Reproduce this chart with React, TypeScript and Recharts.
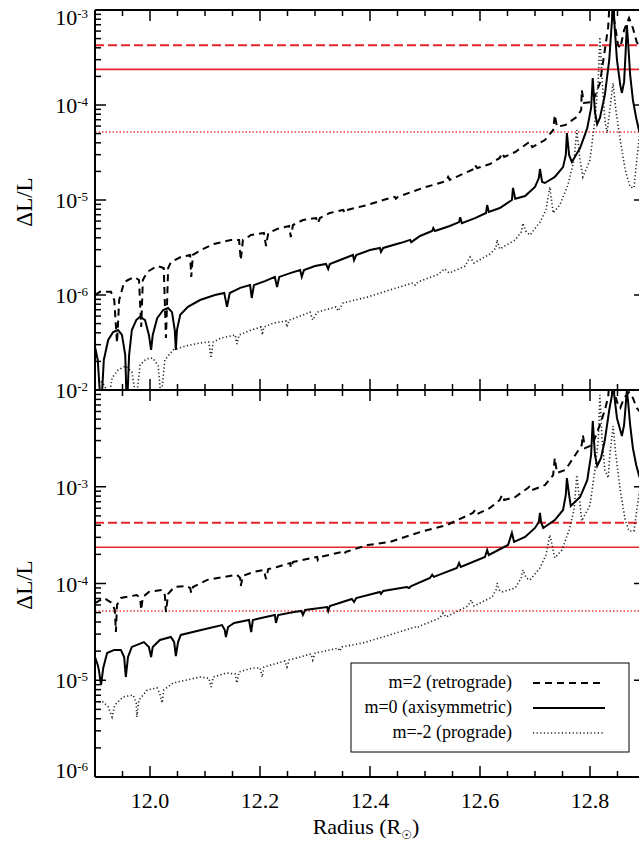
import { Line, LineChart, ReferenceLine, XAxis, YAxis } from "recharts";

type Pt = [number, number];

const SERIF = '"Liberation Serif", "Times New Roman", Times, serif';
const INK = "#000";
const RED = "#e8262a";

// Radius axis (solar radii)
const radiusDomain: [number, number] = [11.9, 12.9];
const radiusTicks = [
  11.9, 11.95, 12.0, 12.05, 12.1, 12.15, 12.2, 12.25, 12.3, 12.35, 12.4,
  12.45, 12.5, 12.55, 12.6, 12.65, 12.7, 12.75, 12.8, 12.85, 12.9,
];
const radiusLabels = [12.0, 12.2, 12.4, 12.6, 12.8];

// Decades shown on each panel (exponents of 10)
const topDecades = [-7, -6, -5, -4, -3];
const bottomDecades = [-6, -5, -4, -3, -2];
const topLabelled = [-6, -5, -4, -3];
const bottomLabelled = [-6, -5, -4, -3, -2];

// Detection limits (red lines)
const retroLimit = 4.25e-4;
const axiLimit = 2.37e-4;
const proLimit = 5.2e-5;

// ---- upper panel ----
const m2Top: Pt[] = [
  [11.9, 1.0e-6], [11.909, 1.08e-6], [11.929, 1.08e-6], [11.935, 8.85e-7], [11.94, 3.13e-7],
  [11.944, 8.85e-7], [11.953, 1.37e-6], [11.971, 1.55e-6], [11.98, 1.44e-6], [11.984, 4.6e-7],
  [11.987, 1.44e-6], [11.995, 1.75e-6], [12.013, 2.02e-6], [12.025, 1.92e-6], [12.029, 3.52e-7],
  [12.033, 1.92e-6], [12.038, 2.22e-6], [12.056, 2.51e-6], [12.073, 2.64e-6], [12.075, 1.55e-6],
  [12.078, 2.64e-6], [12.093, 2.98e-6], [12.116, 3.44e-6], [12.147, 3.8e-6], [12.162, 3.8e-6],
  [12.165, 2.33e-6], [12.169, 3.8e-6], [12.184, 4.28e-6], [12.207, 4.5e-6], [12.211, 3.28e-6],
  [12.215, 4.5e-6], [12.231, 4.95e-6], [12.253, 5.32e-6], [12.256, 4.08e-6], [12.26, 5.45e-6],
  [12.278, 6.15e-6], [12.302, 6.45e-6], [12.305, 5.7e-6], [12.309, 6.45e-6], [12.327, 7.3e-6],
  [12.351, 7.85e-6], [12.355, 7.3e-6], [12.358, 7.85e-6], [12.395, 8.85e-6], [12.424, 1.0e-5],
  [12.445, 1.08e-5], [12.447, 1.03e-5], [12.451, 1.08e-5], [12.496, 1.34e-5], [12.538, 1.58e-5],
  [12.542, 1.75e-5], [12.545, 1.63e-5], [12.589, 2.12e-5], [12.591, 2.33e-5], [12.595, 2.17e-5],
  [12.618, 2.39e-5], [12.636, 2.77e-5], [12.64, 3.13e-5], [12.644, 2.84e-5], [12.664, 3.2e-5],
  [12.687, 3.98e-5], [12.691, 4.1e-5], [12.695, 3.6e-5], [12.718, 4.28e-5], [12.733, 5.45e-5],
  [12.736, 7.85e-5], [12.74, 5.9e-5], [12.755, 6.15e-5], [12.776, 7.5e-5], [12.784, 8.85e-5],
  [12.785, 1.44e-4], [12.789, 1.05e-4], [12.805, 1.08e-4], [12.818, 1.7e-4], [12.827, 3.8e-4],
  [12.833, 6.6e-4], [12.838, 2e-3], [12.844, 7.85e-4], [12.851, 4.28e-4], [12.855, 3.98e-4],
  [12.862, 6.15e-4], [12.871, 8.24e-4], [12.878, 6.45e-4], [12.885, 4.6e-4], [12.9, 3.36e-4],
];

const m0Top: Pt[] = [
  [11.9, 2.84e-7], [11.905, 2.07e-7], [11.911, 6e-8], [11.916, 2.07e-7], [11.924, 3.36e-7],
  [11.933, 4.08e-7], [11.942, 4.28e-7], [11.949, 3.8e-7], [11.955, 2.33e-7], [11.958, 6e-8],
  [11.962, 2.33e-7], [11.967, 4.28e-7], [11.975, 5.45e-7], [11.982, 5.9e-7], [11.991, 5.45e-7],
  [11.998, 3.8e-7], [12.002, 2.64e-7], [12.005, 3.8e-7], [12.013, 5.7e-7], [12.024, 6.95e-7],
  [12.033, 7.3e-7], [12.04, 6.6e-7], [12.045, 4.28e-7], [12.047, 2.64e-7], [12.049, 4.28e-7],
  [12.055, 6.2e-7], [12.069, 7.5e-7], [12.091, 8.85e-7], [12.118, 1.0e-6], [12.135, 1.05e-6],
  [12.14, 7.5e-7], [12.145, 1.05e-6], [12.164, 1.19e-6], [12.182, 1.27e-6], [12.185, 9.3e-7],
  [12.189, 1.27e-6], [12.209, 1.4e-6], [12.227, 1.55e-6], [12.231, 1.21e-6], [12.235, 1.55e-6],
  [12.255, 1.7e-6], [12.273, 1.83e-6], [12.276, 1.55e-6], [12.28, 1.83e-6], [12.3, 2.02e-6],
  [12.32, 2.12e-6], [12.324, 1.88e-6], [12.327, 2.12e-6], [12.355, 2.45e-6], [12.369, 2.64e-6],
  [12.371, 2.33e-6], [12.375, 2.64e-6], [12.4, 2.98e-6], [12.418, 3.13e-6], [12.42, 2.84e-6],
  [12.424, 3.13e-6], [12.455, 3.52e-6], [12.473, 3.8e-6], [12.475, 3.6e-6], [12.491, 4.18e-6],
  [12.513, 4.72e-6], [12.515, 5.07e-6], [12.518, 4.72e-6], [12.545, 5.32e-6], [12.562, 5.86e-6],
  [12.564, 6.6e-6], [12.567, 5.7e-6], [12.591, 6.45e-6], [12.611, 7.3e-6], [12.613, 8.85e-6],
  [12.616, 7.48e-6], [12.636, 8.24e-6], [12.658, 1.0e-5], [12.66, 1.34e-5], [12.664, 1.03e-5],
  [12.682, 1.1e-5], [12.7, 1.37e-5], [12.707, 1.7e-5], [12.709, 2.12e-5], [12.713, 1.55e-5],
  [12.718, 1.51e-5], [12.736, 1.75e-5], [12.751, 2.22e-5], [12.756, 2.98e-5], [12.758, 5.07e-5],
  [12.762, 2.98e-5], [12.767, 2.51e-5], [12.782, 3.52e-5], [12.795, 5.7e-5], [12.802, 9.3e-5],
  [12.805, 1.92e-4], [12.809, 8.43e-5], [12.813, 6.3e-5], [12.818, 7.3e-5], [12.827, 1.27e-4],
  [12.835, 2.98e-4], [12.84, 7.85e-4], [12.842, 2e-3], [12.844, 7.85e-4], [12.849, 2.98e-4],
  [12.855, 1.63e-4], [12.858, 1.34e-4], [12.862, 1.75e-4], [12.865, 3.8e-4], [12.867, 6.95e-4],
  [12.869, 4.83e-4], [12.873, 2.07e-4], [12.878, 1.13e-4], [12.884, 7.3e-5], [12.889, 5.45e-5],
  [12.9, 3.52e-5],
];

const mm2Top: Pt[] = [
  [11.9, 1.19e-7], [11.909, 1.27e-7], [11.918, 1.1e-7], [11.925, 8e-8], [11.931, 1.34e-7],
  [11.942, 1.63e-7], [11.956, 1.79e-7], [11.967, 1.55e-7], [11.975, 8e-8], [11.982, 1.83e-7],
  [11.993, 2.12e-7], [12.005, 2.17e-7], [12.015, 1.79e-7], [12.02, 8e-8], [12.027, 2.07e-7],
  [12.042, 2.64e-7], [12.064, 2.9e-7], [12.091, 3.13e-7], [12.107, 3.2e-7], [12.111, 2.17e-7],
  [12.115, 3.2e-7], [12.129, 3.52e-7], [12.155, 3.8e-7], [12.158, 3.05e-7], [12.162, 3.8e-7],
  [12.184, 4.28e-7], [12.202, 4.6e-7], [12.204, 3.8e-7], [12.207, 4.6e-7], [12.225, 5.07e-7],
  [12.247, 5.32e-7], [12.249, 4.6e-7], [12.253, 5.45e-7], [12.278, 6.15e-7], [12.291, 6.6e-7],
  [12.296, 5.45e-7], [12.304, 6.6e-7], [12.338, 7.5e-7], [12.342, 6.8e-7], [12.351, 8.24e-7],
  [12.395, 9.5e-7], [12.436, 1.13e-6], [12.478, 1.34e-6], [12.482, 1.27e-6], [12.487, 1.37e-6],
  [12.522, 1.63e-6], [12.536, 1.88e-6], [12.544, 1.7e-6], [12.573, 2.02e-6], [12.582, 2.51e-6],
  [12.589, 2.17e-6], [12.618, 2.7e-6], [12.629, 3.13e-6], [12.631, 3.8e-6], [12.636, 3.05e-6],
  [12.664, 3.8e-6], [12.675, 4.6e-6], [12.678, 5.7e-6], [12.684, 4.6e-6], [12.691, 4.28e-6],
  [12.709, 5.86e-6], [12.72, 7.85e-6], [12.727, 1.37e-5], [12.733, 7.3e-6], [12.745, 8.85e-6],
  [12.76, 1.44e-5], [12.771, 2.64e-5], [12.776, 5.45e-5], [12.782, 2.64e-5], [12.787, 1.75e-5],
  [12.8, 2.64e-5], [12.809, 6.95e-5], [12.815, 1.83e-4], [12.818, 5.2e-4], [12.822, 1.83e-4],
  [12.827, 6.95e-5], [12.831, 5.07e-5], [12.836, 8.85e-5], [12.842, 1.7e-4], [12.847, 8.85e-5],
  [12.855, 4.28e-5], [12.864, 2.07e-5], [12.873, 1.37e-5], [12.88, 1.34e-5], [12.885, 2.64e-5],
  [12.889, 4.28e-5], [12.9, 1.13e-4],
];

// ---- lower panel ----
const m2Bot: Pt[] = [
  [11.9, 6.28e-5], [11.916, 7.08e-5], [11.931, 6.28e-5], [11.936, 5.32e-5], [11.938, 3.15e-5],
  [11.94, 6.0e-5], [11.947, 7.08e-5], [11.976, 7.6e-5], [11.982, 7.08e-5], [11.984, 5.32e-5],
  [11.987, 7.25e-5], [11.998, 8.17e-5], [12.022, 8.57e-5], [12.027, 7.6e-5], [12.029, 5.07e-5],
  [12.033, 7.8e-5], [12.044, 9.2e-5], [12.067, 9.42e-5], [12.073, 8.98e-5], [12.075, 7.98e-5],
  [12.078, 9.2e-5], [12.104, 1.09e-4], [12.158, 1.23e-4], [12.164, 1.14e-4], [12.165, 9.42e-5],
  [12.169, 1.2e-4], [12.189, 1.32e-4], [12.207, 1.38e-4], [12.211, 1.11e-4], [12.215, 1.41e-4],
  [12.231, 1.48e-4], [12.255, 1.63e-4], [12.256, 1.45e-4], [12.26, 1.67e-4], [12.304, 1.88e-4],
  [12.305, 1.75e-4], [12.309, 1.88e-4], [12.349, 2.12e-4], [12.353, 2.02e-4], [12.356, 2.12e-4],
  [12.396, 2.5e-4], [12.436, 2.69e-4], [12.491, 3.4e-4], [12.54, 4.03e-4], [12.587, 5.36e-4],
  [12.591, 5.75e-4], [12.595, 5.22e-4], [12.618, 6.03e-4], [12.636, 7.3e-4], [12.64, 8.22e-4],
  [12.644, 7.3e-4], [12.664, 7.83e-4], [12.687, 9.7e-4], [12.691, 1.02e-3], [12.695, 9.25e-4],
  [12.718, 1.04e-3], [12.733, 1.32e-3], [12.736, 1.98e-3], [12.74, 1.39e-3], [12.755, 1.49e-3],
  [12.778, 2.34e-3], [12.785, 2.7e-3], [12.787, 3.43e-3], [12.791, 2.51e-3], [12.804, 2.7e-3],
  [12.818, 4.35e-3], [12.827, 6.21e-3], [12.833, 8.47e-3], [12.838, 2e-2], [12.844, 9.5e-3],
  [12.851, 7.0e-3], [12.855, 6.52e-3], [12.862, 8.27e-3], [12.871, 9.5e-3], [12.878, 8.27e-3],
  [12.885, 6.52e-3], [12.9, 5.14e-3],
];

const m0Bot: Pt[] = [
  [11.9, 1.74e-5], [11.905, 1.44e-5], [11.907, 1.28e-5], [11.911, 8.94e-6], [11.915, 1.34e-5],
  [11.922, 1.91e-5], [11.935, 2.06e-5], [11.947, 2.06e-5], [11.953, 1.74e-5], [11.956, 1.08e-5],
  [11.96, 1.74e-5], [11.967, 2.21e-5], [11.989, 2.48e-5], [11.998, 2.21e-5], [12.002, 1.74e-5],
  [12.005, 2.21e-5], [12.018, 2.61e-5], [12.038, 2.8e-5], [12.044, 2.48e-5], [12.047, 1.78e-5],
  [12.051, 2.48e-5], [12.056, 2.94e-5], [12.093, 3.3e-5], [12.131, 3.72e-5], [12.136, 3.3e-5],
  [12.138, 2.8e-5], [12.142, 3.55e-5], [12.153, 3.91e-5], [12.18, 4.2e-5], [12.184, 3.15e-5],
  [12.187, 4.2e-5], [12.202, 4.4e-5], [12.227, 4.72e-5], [12.229, 3.91e-5], [12.233, 4.72e-5],
  [12.262, 5.07e-5], [12.275, 5.2e-5], [12.278, 4.72e-5], [12.282, 5.32e-5], [12.322, 5.71e-5],
  [12.324, 5.2e-5], [12.327, 5.85e-5], [12.367, 6.92e-5], [12.371, 6.44e-5], [12.375, 7.08e-5],
  [12.418, 8.17e-5], [12.42, 7.8e-5], [12.424, 8.37e-5], [12.467, 9.2e-5], [12.471, 8.98e-5],
  [12.475, 9.42e-5], [12.509, 1.14e-4], [12.513, 1.23e-4], [12.516, 1.17e-4], [12.558, 1.45e-4],
  [12.562, 1.63e-4], [12.565, 1.48e-4], [12.609, 1.88e-4], [12.613, 2.22e-4], [12.616, 1.97e-4],
  [12.651, 2.5e-4], [12.658, 3.33e-4], [12.662, 2.69e-4], [12.682, 3.03e-4], [12.7, 3.75e-4],
  [12.707, 4.33e-4], [12.709, 5.36e-4], [12.711, 4.33e-4], [12.715, 3.75e-4], [12.736, 4.53e-4],
  [12.751, 5.75e-4], [12.756, 8.22e-4], [12.758, 1.23e-3], [12.762, 8.22e-4], [12.765, 6.32e-4],
  [12.782, 7.83e-4], [12.795, 1.17e-3], [12.802, 2.13e-3], [12.805, 4.79e-3], [12.809, 2.13e-3],
  [12.813, 1.64e-3], [12.82, 1.98e-3], [12.827, 3.04e-3], [12.835, 6.21e-3], [12.84, 8.9e-3],
  [12.842, 2e-2], [12.844, 8.9e-3], [12.849, 5.14e-3], [12.855, 3.86e-3], [12.858, 3.35e-3],
  [12.862, 4.35e-3], [12.867, 9.76e-3], [12.869, 7.88e-3], [12.873, 4.35e-3], [12.878, 2.51e-3],
  [12.884, 1.68e-3], [12.889, 1.32e-3], [12.9, 8.83e-4],
];

const mm2Bot: Pt[] = [
  [11.9, 5.96e-6], [11.915, 5.96e-6], [11.924, 5.3e-6], [11.931, 4.17e-6], [11.936, 5.55e-6],
  [11.951, 6.71e-6], [11.969, 7.05e-6], [11.975, 5.82e-6], [11.976, 4.17e-6], [11.98, 6.25e-6],
  [11.995, 7.93e-6], [12.013, 8.32e-6], [12.018, 7.21e-6], [12.022, 5.82e-6], [12.025, 7.93e-6],
  [12.042, 9.37e-6], [12.091, 1.08e-5], [12.107, 1.05e-5], [12.111, 8.52e-6], [12.115, 1.08e-5],
  [12.14, 1.19e-5], [12.155, 1.16e-5], [12.158, 9.37e-6], [12.162, 1.22e-5], [12.187, 1.34e-5],
  [12.2, 1.34e-5], [12.204, 1.08e-5], [12.207, 1.37e-5], [12.245, 1.58e-5], [12.249, 1.37e-5],
  [12.253, 1.62e-5], [12.293, 1.87e-5], [12.296, 1.62e-5], [12.3, 1.91e-5], [12.342, 2.15e-5],
  [12.345, 2.0e-5], [12.349, 2.21e-5], [12.387, 2.43e-5], [12.436, 2.94e-5], [12.482, 3.55e-5],
  [12.485, 3.47e-5], [12.491, 3.64e-5], [12.527, 4.4e-5], [12.533, 4.95e-5], [12.538, 4.5e-5],
  [12.578, 5.85e-5], [12.584, 6.75e-5], [12.589, 5.85e-5], [12.622, 7.25e-5], [12.629, 8.57e-5],
  [12.631, 1.01e-4], [12.635, 8.57e-5], [12.64, 8.17e-5], [12.664, 8.98e-5], [12.675, 1.14e-4],
  [12.678, 1.38e-4], [12.684, 1.14e-4], [12.691, 1.09e-4], [12.709, 1.45e-4], [12.72, 1.97e-4],
  [12.727, 3.17e-4], [12.731, 2.5e-4], [12.736, 1.84e-4], [12.749, 2.22e-4], [12.762, 3.57e-4],
  [12.771, 5.75e-4], [12.776, 1.32e-3], [12.782, 6.47e-4], [12.785, 4.43e-4], [12.8, 6.47e-4],
  [12.809, 1.49e-3], [12.815, 3.04e-3], [12.818, 8.9e-3], [12.822, 3.04e-3], [12.827, 1.49e-3],
  [12.833, 1.23e-3], [12.836, 2.13e-3], [12.842, 4.25e-3], [12.847, 2.13e-3], [12.855, 9.25e-4],
  [12.864, 4.53e-4], [12.871, 3.49e-4], [12.88, 3.49e-4], [12.885, 5.75e-4], [12.889, 8.22e-4],
  [12.9, 2.13e-3],
];

const styles = {
  retro: { stroke: INK, strokeWidth: 2, strokeDasharray: "7 5" },
  axi: { stroke: INK, strokeWidth: 2 },
  pro: { stroke: "#222", strokeWidth: 1.6, strokeDasharray: "1.2 2.4" },
};

const legendRows = [
  { label: "m=2 (retrograde)", style: styles.retro },
  { label: "m=0 (axisymmetric)", style: styles.axi },
  { label: "m=-2 (prograde)", style: styles.pro },
];

const rows = (pts: Pt[]) => pts.map(([x, y]) => ({ x, y }));

function logTicks(decades: number[]) {
  const out: number[] = [];
  decades.forEach((d, i) => {
    const steps = i === decades.length - 1 ? [1] : [1, 2, 3, 4, 5, 6, 7, 8, 9];
    steps.forEach((s) => out.push(s * Math.pow(10, d)));
  });
  return out;
}

function yTick(side: "left" | "right", labelled: number[], shift: Record<number, number>) {
  return (props: any) => {
    const { x, y, payload } = props;
    const e = Math.log10(payload.value);
    const exp = Math.round(e);
    const major = Math.abs(e - exp) < 1e-6;
    const dir = side === "left" ? 1 : -1;
    const len = major ? 11 : 6;
    const show = side === "left" && major && labelled.includes(exp);
    return (
      <g>
        <line x1={x} x2={x + dir * len} y1={y} y2={y} stroke={INK} strokeWidth={1.5} />
        {show && (
          <text
            x={x - 7}
            y={y + 8 + (shift[exp] || 0)}
            textAnchor="end"
            fontFamily={SERIF}
            fontSize={22}
            fill={INK}
          >
            10
            <tspan fontSize={13} dy={-7}>
              {exp}
            </tspan>
          </text>
        )}
      </g>
    );
  };
}

function xTick(side: "top" | "bottom", labelled: boolean) {
  return (props: any) => {
    const { x, y, payload } = props;
    const v = payload.value;
    const major = radiusLabels.some((m) => Math.abs(m - v) < 1e-6);
    const dir = side === "top" ? 1 : -1;
    const len = major ? 11 : 6;
    return (
      <g>
        <line x1={x} x2={x} y1={y} y2={y + dir * len} stroke={INK} strokeWidth={1.5} />
        {labelled && major && (
          <text x={x} y={y + 31} textAnchor="middle" fontFamily={SERIF} fontSize={22} fill={INK}>
            {v.toFixed(1)}
          </text>
        )}
      </g>
    );
  };
}

interface PanelProps {
  top: number;
  height: number;
  padTop: number;
  padBottom: number;
  decades: number[];
  labelled: number[];
  shift: Record<number, number>;
  showRadius: boolean;
  m2: Pt[];
  m0: Pt[];
  mm2: Pt[];
}

function Panel(p: PanelProps) {
  const yTicks = logTicks(p.decades);
  const yDomain: [number, number] = [
    Math.pow(10, p.decades[0]),
    Math.pow(10, p.decades[p.decades.length - 1]),
  ];
  const axisLine = { stroke: INK, strokeWidth: 2 };
  return (
    <div style={{ position: "absolute", left: 0, top: p.top }}>
      <LineChart width={700} height={p.height} margin={{ top: 0, right: 0, bottom: 0, left: 0 }}>
        <XAxis
          xAxisId="b"
          type="number"
          dataKey="x"
          domain={radiusDomain}
          allowDataOverflow
          ticks={radiusTicks}
          interval={0}
          tickSize={0}
          tickMargin={0}
          height={p.padBottom}
          axisLine={axisLine}
          tickLine={false}
          tick={xTick("bottom", p.showRadius)}
        />
        <XAxis
          xAxisId="t"
          orientation="top"
          type="number"
          dataKey="x"
          domain={radiusDomain}
          allowDataOverflow
          ticks={radiusTicks}
          interval={0}
          tickSize={0}
          tickMargin={0}
          height={p.padTop}
          axisLine={axisLine}
          tickLine={false}
          tick={xTick("top", false)}
        />
        <YAxis
          yAxisId="l"
          type="number"
          scale="log"
          domain={yDomain}
          allowDataOverflow
          ticks={yTicks}
          interval={0}
          tickSize={0}
          tickMargin={0}
          width={95}
          axisLine={axisLine}
          tickLine={false}
          tick={yTick("left", p.labelled, p.shift)}
        />
        <YAxis
          yAxisId="r"
          orientation="right"
          type="number"
          scale="log"
          domain={yDomain}
          allowDataOverflow
          ticks={yTicks}
          interval={0}
          tickSize={0}
          tickMargin={0}
          width={55}
          axisLine={axisLine}
          tickLine={false}
          tick={yTick("right", [], {})}
        />
        <ReferenceLine xAxisId="b" yAxisId="l" y={retroLimit} stroke={RED} strokeWidth={2} strokeDasharray="9 4" />
        <ReferenceLine xAxisId="b" yAxisId="l" y={axiLimit} stroke={RED} strokeWidth={1.6} />
        <ReferenceLine xAxisId="b" yAxisId="l" y={proLimit} stroke="#f04040" strokeWidth={1.6} strokeDasharray="1.5 2" />
        <Line xAxisId="b" yAxisId="l" data={rows(p.mm2)} dataKey="y" type="linear" dot={false} activeDot={false} isAnimationActive={false} {...styles.pro} />
        <Line xAxisId="b" yAxisId="l" data={rows(p.m2)} dataKey="y" type="linear" dot={false} activeDot={false} isAnimationActive={false} {...styles.retro} />
        <Line xAxisId="b" yAxisId="l" data={rows(p.m0)} dataKey="y" type="linear" dot={false} activeDot={false} isAnimationActive={false} {...styles.axi} />
      </LineChart>
    </div>
  );
}

export default function App() {
  return (
    <div
      style={{
        position: "absolute",
        left: 0,
        top: 0,
        width: 639,
        height: 843,
        overflow: "hidden",
        background: "#fff",
      }}
    >
      <Panel
        top={0}
        height={400}
        padTop={10}
        padBottom={10}
        decades={topDecades}
        labelled={topLabelled}
        shift={{ [-3]: 7 }}
        showRadius={false}
        m2={m2Top}
        m0={m0Top}
        mm2={mm2Top}
      />
      <Panel
        top={370}
        height={473}
        padTop={20}
        padBottom={66}
        decades={bottomDecades}
        labelled={bottomLabelled}
        shift={{ [-6]: -7 }}
        showRadius
        m2={m2Bot}
        m0={m0Bot}
        mm2={mm2Bot}
      />

      {/* Axis titles and legend */}
      <svg width={639} height={843} style={{ position: "absolute", left: 0, top: 0, pointerEvents: "none" }}>
        <text transform="rotate(-90 32 202)" x={32} y={202} textAnchor="middle" fontFamily={SERIF} fontSize={23} fill={INK}>
          ΔL/L
        </text>
        <text transform="rotate(-90 32 585)" x={32} y={585} textAnchor="middle" fontFamily={SERIF} fontSize={23} fill={INK}>
          ΔL/L
        </text>
        <text x={366} y={834} textAnchor="middle" fontFamily={SERIF} fontSize={22} fill={INK}>
          Radius (R
          <tspan fontSize={12} dy={5} fontFamily='"DejaVu Sans", sans-serif'>
            ☉
          </tspan>
          <tspan dy={-5}>)</tspan>
        </text>

        <rect x={351} y={663} width={278} height={89} fill="#fff" stroke={INK} strokeWidth={1} />
        {legendRows.map((r, i) => {
          const cy = 683 + i * 25;
          return (
            <g key={r.label}>
              <text x={512} y={cy + 5} textAnchor="end" fontFamily={SERIF} fontSize={18} fill={INK}>
                {r.label}
              </text>
              <line x1={533} x2={605} y1={cy} y2={cy} {...r.style} />
            </g>
          );
        })}
      </svg>
    </div>
  );
}
